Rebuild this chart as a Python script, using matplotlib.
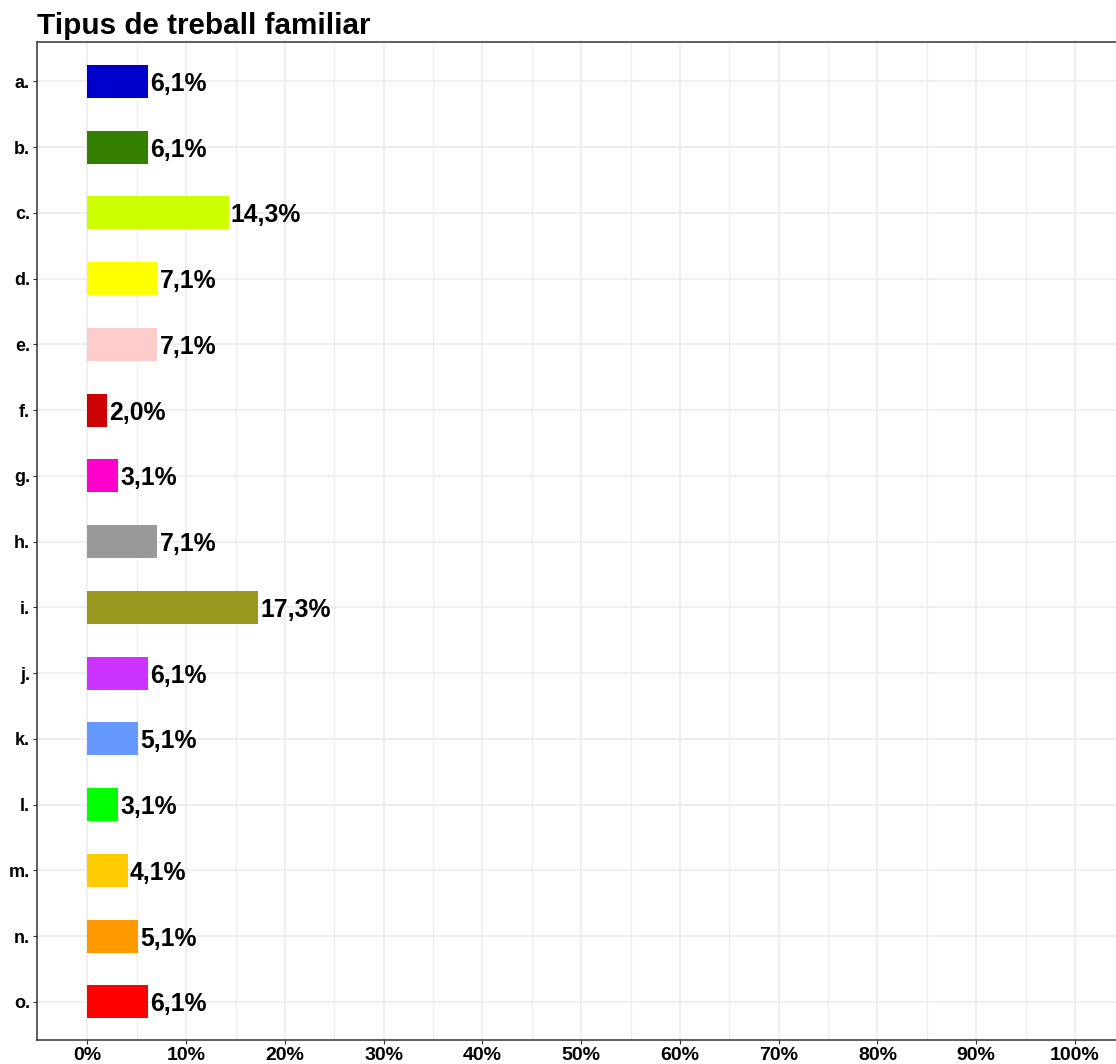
import matplotlib
matplotlib.use('Agg')
import matplotlib.pyplot as plt
import numpy as np

# ----------------- Data -----------------
categories = ['a.', 'b.', 'c.', 'd.', 'e.', 'f.', 'g.', 'h.', 'i.', 'j.', 'k.', 'l.', 'm.', 'n.', 'o.']
values = [6.1, 6.1, 14.3, 7.1, 7.1, 2.0, 3.1, 7.1, 17.3, 6.1, 5.1, 3.1, 4.1, 5.1, 6.1]
colors = ['#0000CC', '#338000', '#CCFF00', '#FFFF00', '#FFCCCC', '#CC0000', '#FF00CC', '#999999',
          '#999920', '#CC33FF', '#6699FF', '#00FF00', '#FFCC00', '#FF9900', '#FF0000']
x_ticks = list(range(0, 101, 10))
x_ticklabels = [f'{t}%' for t in x_ticks]

plt.rcParams['font.family'] = ['Liberation Sans', 'DejaVu Sans']

fig = plt.figure(figsize=(11.16, 10.64), dpi=100)
ax = fig.add_axes([37 / 1116, 24 / 1064, 1 - 37 / 1116 + 0.004, (1040 - 42) / 1064])

y = np.arange(len(categories))[::-1] + 1
ax.barh(y, values, height=0.5, color=colors, zorder=3)
for yi, v in zip(y, values):
    ax.annotate(f'{v:.1f}'.replace('.', ',') + '%', (v, yi), xytext=(1.5, 0), textcoords='offset points',
                ha='left', va='center_baseline', fontsize=17.8, fontweight='bold', zorder=4)

ax.set_xlim(-5.1, 104.6)
ax.set_ylim(0.42, len(categories) + 0.6)
ax.set_yticks(y)
ax.set_yticklabels(categories, fontsize=13, fontweight='bold')
ax.set_xticks(x_ticks)
ax.set_xticklabels(x_ticklabels, fontsize=14, fontweight='bold')
ax.set_xticks(np.arange(5, 105, 10), minor=True)

ax.grid(True, which='major', color='#EBEBEB', linewidth=1.1, zorder=0)
ax.grid(True, which='minor', axis='x', color='#EEEEEE', linewidth=0.9, zorder=0)
ax.tick_params(axis='both', which='major', length=3, color='#333333', pad=2)
ax.tick_params(axis='both', which='minor', length=0)
for s in ax.spines.values():
    s.set_color('#333333')
    s.set_linewidth(1.1)

fig.text(37 / 1116, 1 - 34 / 1064, 'Tipus de treball familiar', fontsize=21.3, fontweight='bold',
         ha='left', va='baseline')

fig.savefig('out.png', dpi=100)
